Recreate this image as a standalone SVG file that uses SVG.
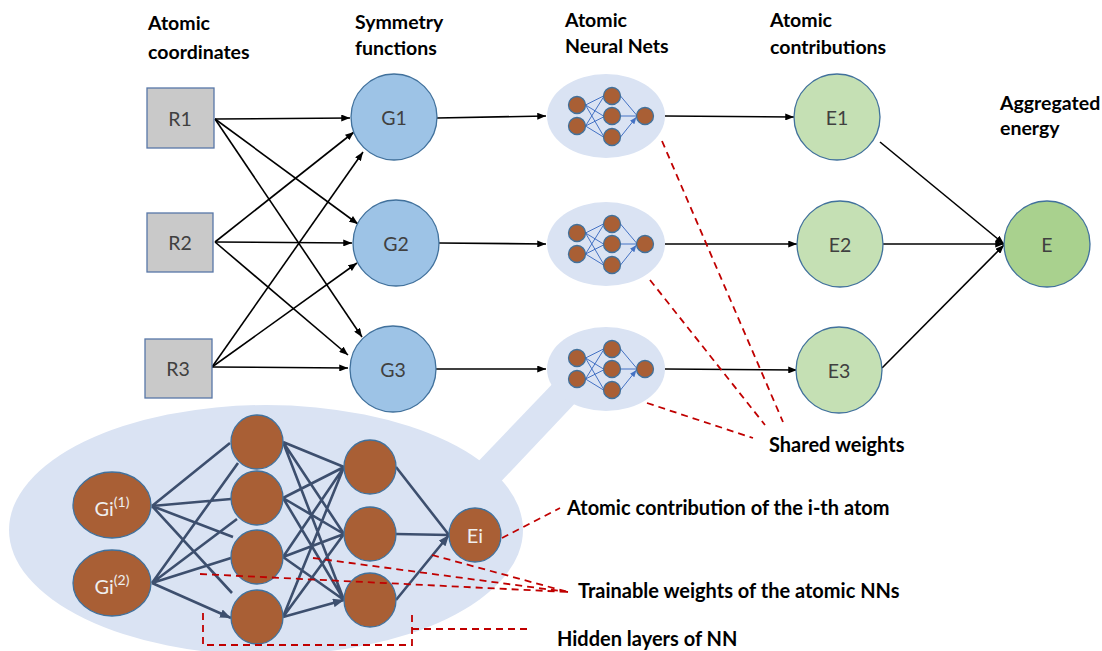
<svg xmlns="http://www.w3.org/2000/svg" width="1102" height="651" viewBox="0 0 1102 651">
<style>
.hdr{font-family:Lato,"Liberation Sans",sans-serif;font-weight:bold;font-size:19.5px;fill:#000}
.ann{font-family:Lato,"Liberation Sans",sans-serif;font-weight:bold;font-size:20px;fill:#000}
.lbl{font-family:Lato,"Liberation Sans",sans-serif;font-size:19.5px;fill:#404040;text-anchor:middle;dominant-baseline:central}
.wl{font-family:Lato,"Liberation Sans",sans-serif;font-size:20px;fill:#EFEFEF;text-anchor:middle;dominant-baseline:central}
.box{fill:#C9C9C9;stroke:#5877A8;stroke-width:1.3}
.gc{fill:#9DC3E6;stroke:#41719C;stroke-width:1.3}
.ec{fill:#C5E0B4;stroke:#41719C;stroke-width:1.3}
.eb{fill:#A9D18E;stroke:#41719C;stroke-width:1.3}
.nn{fill:#DAE3F3;stroke:none}
.bn{fill:#A95F35;stroke:#41719C;stroke-width:1.3}
.k{stroke:#000;stroke-width:1.6;fill:none;marker-end:url(#ak)}
.d{stroke:#3D4F6E;stroke-width:2.6;fill:none;marker-end:url(#ad)}
.m{stroke:#4472C4;stroke-width:1;fill:none;marker-end:url(#am)}
.r{stroke:#C00000;stroke-width:1.8;stroke-dasharray:7 5;fill:none}
</style>
<defs>
<marker id="ak" viewBox="0 0 10 8" markerWidth="9" markerHeight="7" refX="10" refY="4" orient="auto" markerUnits="userSpaceOnUse"><path d="M0,0L10,4L0,8z" fill="#000"/></marker>
<marker id="ad" viewBox="0 0 10 8" markerWidth="11" markerHeight="9" refX="10" refY="4" orient="auto" markerUnits="userSpaceOnUse"><path d="M0,0L10,4L0,8z" fill="#3D4F6E"/></marker>
<marker id="am" viewBox="0 0 10 8" markerWidth="7" markerHeight="6" refX="10" refY="4" orient="auto" markerUnits="userSpaceOnUse"><path d="M0,0L10,4L0,8z" fill="#4472C4"/></marker>
<g id="mini">
<ellipse class="nn" cx="0" cy="0" rx="59" ry="42"/>
<path class="m" d="M-20.5,-11L-2.5,-20M-20.5,-11L-2.5,0M-20.5,-11L-2.5,20M-20.5,10L-2.5,-19M-20.5,10L-2.5,1M-20.5,10L-2.5,21M14.5,-20L30.5,-1M14.5,0L30.5,0M14.5,21L30.5,1"/>
<circle class="bn" cx="-29" cy="-11" r="8.5"/>
<circle class="bn" cx="-29" cy="10" r="8.5"/>
<circle class="bn" cx="6" cy="-20" r="8.5"/>
<circle class="bn" cx="6" cy="0" r="8.5"/>
<circle class="bn" cx="6" cy="21" r="8.5"/>
<circle class="bn" cx="39" cy="0" r="8.5"/>
</g>
</defs>
<rect width="1102" height="651" fill="#fff"/>

<g id="headers">
<text class="hdr" x="148" y="30">Atomic</text>
<text class="hdr" x="148" y="59">coordinates</text>
<text class="hdr" x="355" y="29">Symmetry</text>
<text class="hdr" x="355" y="55">functions</text>
<text class="hdr" x="565" y="27">Atomic</text>
<text class="hdr" x="565" y="53">Neural Nets</text>
<text class="hdr" x="770" y="27">Atomic</text>
<text class="hdr" x="770" y="54">contributions</text>
<text class="hdr" x="1000" y="110">Aggregated</text>
<text class="hdr" x="1000" y="135">energy</text>
</g>

<g id="zoom-band">
<polygon class="nn" points="470,470 560,376 580,398 493,490"/>
<ellipse class="nn" cx="266" cy="530" rx="257" ry="125"/>
</g>

<g id="connectors">
<path class="k" d="M215,119L350,118"/>
<path class="k" d="M215,119L358,224"/>
<path class="k" d="M215,119L362,337"/>
<path class="k" d="M215,242L354,132"/>
<path class="k" d="M215,242L352,243"/>
<path class="k" d="M215,242L348,355"/>
<path class="k" d="M212,367L363,152"/>
<path class="k" d="M212,367L357,263"/>
<path class="k" d="M212,367L348,368"/>
<path class="k" d="M437,118L546,116"/>
<path class="k" d="M439,243L546,244"/>
<path class="k" d="M436,369L546,369"/>
<path class="k" d="M665,116L794,117"/>
<path class="k" d="M665,244L797,244"/>
<path class="k" d="M665,369L797,370"/>
<path class="k" d="M880,142L1004,244"/>
<path class="k" d="M883,244L1004,244"/>
<path class="k" d="M882,368L1004,245"/>
<path class="d" d="M152,506L230,443M152,583L238,463M152,506L231,499M152,583L237,519M152,506L233,537M152,583L231,558M152,506L232,593M152,583L231,618"/>
<path class="d" d="M283,442L344,467M283,442L344,534M283,442L344,600M283,498L344,467M283,498L344,534M283,498L344,600M283,557L344,467M283,557L344,534M283,557L344,600M283,617L344,467M283,617L344,534M283,617L344,600"/>
<path class="d" d="M396,467L449,535M396,534L449,535M396,600L449,535"/>
</g>

<g id="R1"><rect class="box" x="147" y="88" width="67" height="60"/><text class="lbl" x="180" y="118">R1</text></g>
<g id="R2"><rect class="box" x="147" y="213" width="66" height="59"/><text class="lbl" x="180" y="242">R2</text></g>
<g id="R3"><rect class="box" x="145" y="339" width="67" height="59"/><text class="lbl" x="178" y="368">R3</text></g>

<g id="G1"><circle class="gc" cx="394" cy="117" r="43"/><text class="lbl" x="394" y="117">G1</text></g>
<g id="G2"><circle class="gc" cx="396" cy="243" r="43"/><text class="lbl" x="396" y="243">G2</text></g>
<g id="G3"><circle class="gc" cx="393" cy="369" r="43"/><text class="lbl" x="393" y="369">G3</text></g>

<g id="NN1"><use href="#mini" transform="translate(606,116)"/></g>
<g id="NN2"><use href="#mini" transform="translate(606,244)"/></g>
<g id="NN3"><use href="#mini" transform="translate(606,369)"/></g>

<g id="E1"><circle class="ec" cx="837" cy="117" r="43"/><text class="lbl" x="837" y="117">E1</text></g>
<g id="E2"><circle class="ec" cx="840" cy="244" r="43"/><text class="lbl" x="840" y="244">E2</text></g>
<g id="E3"><circle class="ec" cx="839" cy="370" r="43"/><text class="lbl" x="839" y="370">E3</text></g>
<g id="E"><circle class="eb" cx="1047" cy="244" r="43"/><text class="lbl" x="1047" y="244">E</text></g>

<g id="Gi1"><ellipse class="bn" cx="112" cy="505" rx="39" ry="33"/><text class="wl" x="112" y="508">Gi<tspan font-size="14" dy="-7">(1)</tspan></text></g>
<g id="Gi2"><ellipse class="bn" cx="112" cy="583" rx="39" ry="33"/><text class="wl" x="112" y="586">Gi<tspan font-size="14" dy="-7">(2)</tspan></text></g>
<g id="H1a"><ellipse class="bn" cx="257" cy="442" rx="26" ry="27"/></g>
<g id="H1b"><ellipse class="bn" cx="257" cy="498" rx="26" ry="27"/></g>
<g id="H1c"><ellipse class="bn" cx="257" cy="557" rx="26" ry="27"/></g>
<g id="H1d"><ellipse class="bn" cx="257" cy="617" rx="26" ry="27"/></g>
<g id="H2a"><ellipse class="bn" cx="370" cy="467" rx="26" ry="27"/></g>
<g id="H2b"><ellipse class="bn" cx="370" cy="534" rx="26" ry="27"/></g>
<g id="H2c"><ellipse class="bn" cx="370" cy="600" rx="26" ry="27"/></g>
<g id="Ei"><ellipse class="bn" cx="475" cy="535" rx="26" ry="27"/><text class="wl" x="475" y="535">Ei</text></g>

<g id="annotations">
<path class="r" d="M662,141L783,422M650,280L765,425M647,403L753,438"/>
<path class="r" d="M502,538L560,508"/>
<path class="r" d="M200,574L568,592M313,558L568,592M432,555L568,592"/>
<path class="r" d="M203,613L203,645L412,645L412,615M412,629L530,629"/>
<text class="ann" x="769" y="452">Shared weights</text>
<text class="ann" x="567" y="515">Atomic contribution of the i-th atom</text>
<text class="ann" x="578" y="598">Trainable weights of the atomic NNs</text>
<text class="ann" x="557" y="646">Hidden layers of NN</text>
</g>
</svg>
